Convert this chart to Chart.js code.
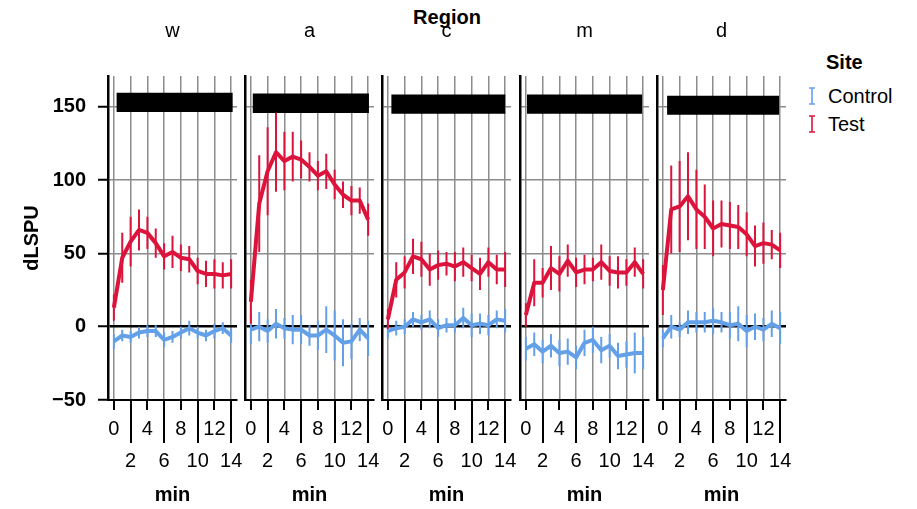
<!DOCTYPE html>
<html>
<head>
<meta charset="utf-8">
<script src="https://cdn.jsdelivr.net/npm/chart.js@4.4.1/dist/chart.umd.min.js"></script>
<style>
  body { margin: 0; width: 917px; height: 509px; background: #fff; position: relative; overflow: hidden;
         font-family: "Liberation Sans", Arial, sans-serif; }
  canvas { position: absolute; top: 0; }
  .t { position: absolute; color: #000; white-space: nowrap; line-height: 24px; font-size: 20px; }
</style>
</head>
<body>
<div class="t" style="left:347px; top:5px; width:200px; text-align:center; font-weight:bold;">Region</div>
<div class="t" style="left:826px; top:50px; font-weight:bold;">Site</div>
<svg style="position:absolute; left:806px; top:87px;" width="12" height="18">
  <path d="M6 1 V17 M3 1 H9 M3 17 H9" stroke="#64A0E8" stroke-width="1.6" fill="none"/>
</svg>
<div class="t" style="left:828px; top:84px;">Control</div>
<svg style="position:absolute; left:806px; top:115px;" width="12" height="18">
  <path d="M6 1 V17 M3 1 H9 M3 17 H9" stroke="#DC143C" stroke-width="1.6" fill="none"/>
</svg>
<div class="t" style="left:828px; top:112px;">Test</div>

<script>
// facets and axes
const regions = ["w", "a", "c", "m", "d"];
const minutes = [0, 1, 2, 3, 4, 5, 6, 7, 8, 9, 10, 11, 12, 13, 14];
const xTicks = [0, 2, 4, 6, 8, 10, 12, 14];
const yTicks = [-50, 0, 50, 100, 150];

// Test site (mean, error)
const testW = [13, 47, 58, 66, 64, 57, 48, 51, 47, 46, 38, 36, 36, 35, 36];
const testWErr = [9, 17, 17, 14, 11, 10, 9, 11, 9, 9, 9, 9, 10, 9, 10];
const testA = [17, 84, 106, 119, 113, 116, 114, 109, 103, 106, 97, 90, 86, 86, 73];
const testAErr = [15, 33, 30, 27, 20, 17, 13, 10, 10, 12, 10, 9, 10, 9, 11];
const testC = [5, 32, 37, 48, 46, 39, 42, 43, 41, 44, 40, 36, 44, 39, 39];
const testCErr = [7, 12, 11, 12, 12, 11, 10, 8, 10, 10, 9, 11, 10, 10, 12];
const testM = [8, 30, 30, 40, 36, 45, 37, 39, 39, 44, 38, 37, 37, 44, 36];
const testMErr = [8, 16, 10, 15, 12, 11, 10, 10, 8, 12, 10, 11, 9, 10, 10];
const testD = [25, 80, 82, 89, 80, 75, 67, 70, 69, 68, 63, 55, 57, 56, 52];
const testDErr = [17, 30, 31, 30, 27, 22, 19, 16, 16, 15, 15, 14, 14, 10, 12];

// Control site (mean, error)
const ctrlW = [-10, -6, -7, -4, -3, -3, -9, -7, -4, -1, -4, -6, -3, -1, -6];
const ctrlWErr = [5, 4, 4, 4, 4, 4, 5, 4, 4, 5, 4, 4, 5, 4, 5];
const ctrlA = [-2, 0, -3, 2, -1, -2, -2, -6, -6, -2, -6, -11, -10, -2, -8];
const ctrlAErr = [10, 10, 8, 10, 7, 10, 10, 7, 10, 16, 17, 16, 12, 8, 12];
const ctrlC = [-3, -1, 0, 5, 3, 5, -1, 1, 1, 6, 1, 2, 1, 5, 4];
const ctrlCErr = [5, 5, 5, 5, 5, 6, 6, 5, 5, 7, 8, 7, 7, 6, 8];
const ctrlM = [-15, -12, -17, -13, -18, -17, -21, -11, -9, -16, -13, -20, -19, -18, -18];
const ctrlMErr = [8, 8, 8, 8, 9, 9, 8, 9, 9, 9, 8, 9, 9, 14, 11];
const ctrlD = [-8, 0, -2, 3, 3, 3, 4, 3, 1, 2, -3, 0, -2, 2, -1];
const ctrlDErr = [6, 8, 5, 8, 7, 7, 9, 7, 9, 12, 11, 9, 8, 9, 11];

// stimulus bar per region
const barStart = [0.3, 0.2, 0.4, 0.12, 0.5];
const barEnd = [14.2, 14.1, 14.05, 13.9, 13.9];
const barTop = [159.5, 159, 158.3, 158.3, 157.5];
const barBottom = [146.4, 145.7, 145.2, 145.2, 144.5];

const testMeans = [testW, testA, testC, testM, testD];
const testErrs = [testWErr, testAErr, testCErr, testMErr, testDErr];
const ctrlMeans = [ctrlW, ctrlA, ctrlC, ctrlM, ctrlD];
const ctrlErrs = [ctrlWErr, ctrlAErr, ctrlCErr, ctrlMErr, ctrlDErr];

const RED = "#DC143C";
const BLUE = "#64A0E8";
const GRID = "#8c8c8c";

Chart.defaults.font.family = '"Liberation Sans", Arial, sans-serif';
Chart.defaults.color = "#000";

function linePoints(vals) {
  return minutes.map((m, k) => ({ x: m, y: vals[k] }));
}

// vertical error segments, broken by null gaps
function errPoints(vals, errs) {
  const pts = [];
  minutes.forEach((m, k) => {
    pts.push({ x: m, y: vals[k] - errs[k] });
    pts.push({ x: m, y: vals[k] + errs[k] });
    pts.push({ x: m, y: null });
  });
  return pts;
}

// short ticks on 0,4,8,12 and long ones on 2,6,10,14
const dodgeTicks = {
  id: "dodgeTicks",
  afterDraw(chart) {
    const xs = chart.scales.x;
    const ctx = chart.ctx;
    ctx.save();
    ctx.strokeStyle = "#000";
    ctx.lineWidth = 2;
    xTicks.forEach((v, k) => {
      const px = Math.round(xs.getPixelForValue(v));
      ctx.beginPath();
      ctx.moveTo(px, xs.top);
      ctx.lineTo(px, xs.top + (k % 2 ? 43 : 10));
      ctx.stroke();
    });
    ctx.restore();
  }
};

const panelLeft = [108, 245, 382, 520, 657];
const panelWidth = 129;
const rightPad = 16;

regions.forEach((r, i) => {
  const first = i === 0;
  const leftW = first ? 108 : 6;
  const cv = document.createElement("canvas");
  cv.width = leftW + panelWidth + rightPad;
  cv.height = 509;
  cv.style.left = (panelLeft[i] - leftW) + "px";
  document.body.appendChild(cv);

  new Chart(cv, {
    type: "line",
    data: {
      datasets: [
        {
          data: linePoints(testMeans[i]),
          borderColor: RED, borderWidth: 4, pointRadius: 0, tension: 0, borderJoinStyle: "round"
        },
        {
          data: linePoints(ctrlMeans[i]),
          borderColor: BLUE, borderWidth: 4, pointRadius: 0, tension: 0, borderJoinStyle: "round"
        },
        {
          data: errPoints(testMeans[i], testErrs[i]),
          borderColor: RED, borderWidth: 2, pointRadius: 0, spanGaps: false
        },
        {
          data: errPoints(ctrlMeans[i], ctrlErrs[i]),
          borderColor: BLUE, borderWidth: 2, pointRadius: 0, spanGaps: false
        },
        {
          data: [{ x: barStart[i], y: barTop[i] }, { x: barEnd[i], y: barTop[i] }],
          borderWidth: 0, pointRadius: 0, backgroundColor: "#000",
          fill: { value: barBottom[i] }
        }
      ]
    },
    options: {
      responsive: false,
      animation: false,
      layout: { autoPadding: false, padding: { left: 0, right: rightPad, top: 0, bottom: 0 } },
      plugins: {
        legend: { display: false },
        tooltip: { enabled: false },
        title: {
          display: true, text: r, fullSize: false,
          font: { size: 20, weight: "normal" },
          padding: { top: 19, bottom: 33 }
        }
      },
      scales: {
        x: {
          type: "linear", min: -0.7, max: 14.7,
          afterBuildTicks: s => { s.ticks = xTicks.map(v => ({ value: v })); },
          afterFit: s => { s.height = 109; s.paddingLeft = 0; s.paddingRight = 0; },
          grid: { color: GRID, lineWidth: 1.5, drawTicks: false },
          border: { display: true, color: "#000", width: 2 },
          ticks: {
            autoSkip: false, maxRotation: 0, padding: 14,
            font: { size: 20, lineHeight: 1.575 },
            callback: (v, k) => (k % 2 ? ["", String(v)] : String(v))
          },
          title: {
            display: true, text: "min",
            font: { size: 20, weight: "bold" },
            padding: { top: 0, bottom: 2 }
          }
        },
        y: {
          min: -50, max: 171,
          afterBuildTicks: s => { s.ticks = yTicks.map(v => ({ value: v })); },
          afterFit: s => { s.width = leftW; s.paddingTop = 0; s.paddingBottom = 0; },
          grid: {
            color: c => (c.tick && c.tick.value === 0 ? "#000" : GRID),
            lineWidth: c => (c.tick && c.tick.value === 0 ? 2.5 : 1.5),
            drawTicks: first, tickLength: 10, tickColor: "#000", tickWidth: 2
          },
          border: { display: true, color: "#000", width: 2.5 },
          ticks: {
            display: first, padding: 12,
            font: { size: 20, weight: "bold" },
            callback: v => (v < 0 ? "\u2212" + Math.abs(v) : String(v))
          },
          title: {
            display: first, text: "dLSPU",
            font: { size: 20, weight: "bold" },
            padding: { top: 20 }
          }
        }
      }
    },
    plugins: [dodgeTicks]
  });
});
</script>
</body>
</html>
